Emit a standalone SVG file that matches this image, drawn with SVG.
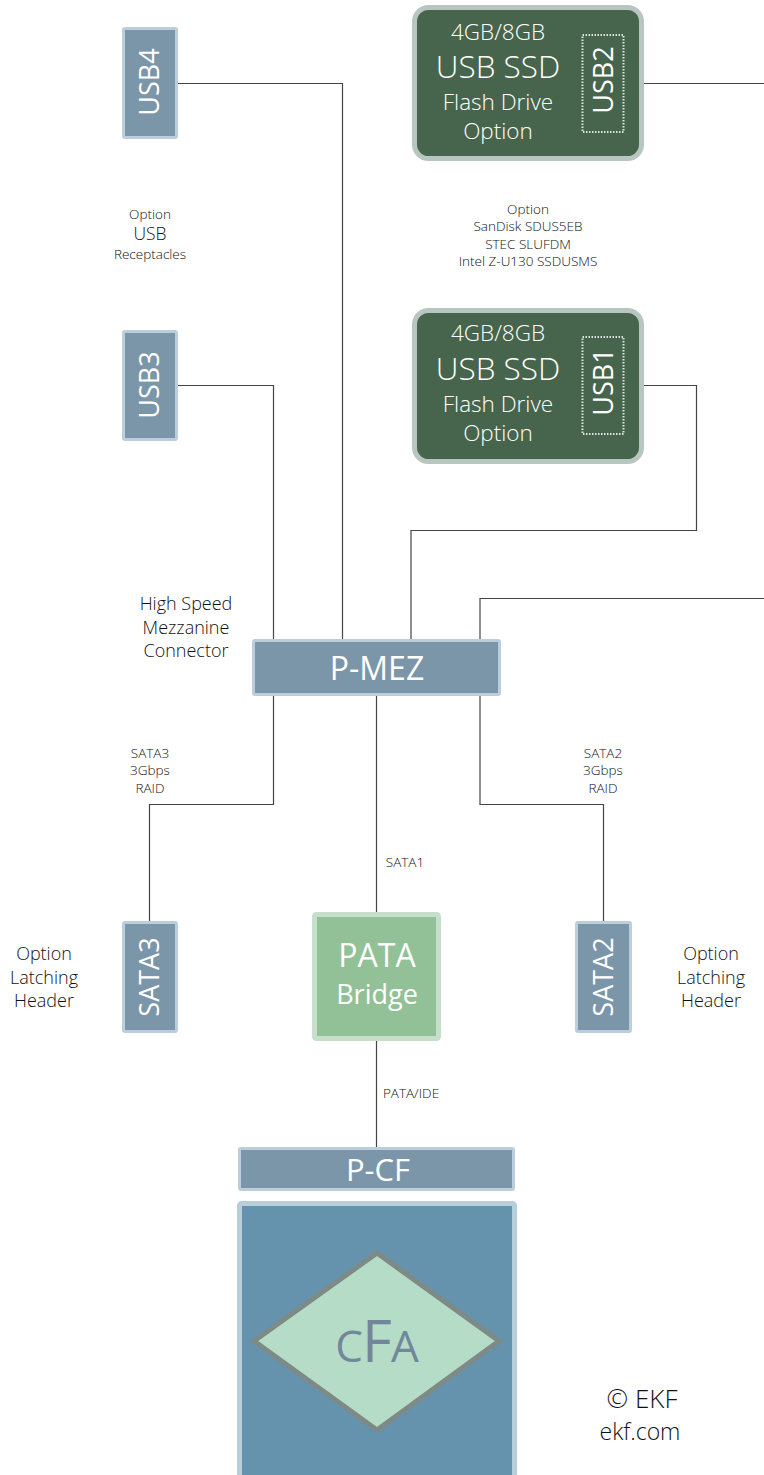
<svg xmlns="http://www.w3.org/2000/svg" width="764" height="1475" viewBox="0 0 764 1475">
<style>
text{font-family:"Open Sans","Noto Sans","Liberation Sans",sans-serif;font-weight:300;text-anchor:middle}
.w{fill:#fff}.d{fill:#111}
.s{font-size:13.500px}.m{font-size:18px}
.r{font-size:27px;font-weight:400}.l{font-size:22.500px}
.b{font-size:31.500px}
.c{fill:#7c96a9;stroke:#bccedb;stroke-width:3}
.ssd{fill:#47654d;stroke:#b8c6c0;stroke-width:5}
.con{fill:none;stroke:#444;stroke-width:1.200}
.dot{fill:none;stroke:#dbe6e1;stroke-width:2;stroke-dasharray:1.500 1.500}
</style>
<rect width="764" height="1475" fill="#fff"/>
<g id="connectors">
<path class="con" d="M178 83.500H342.500V640"/>
<path class="con" d="M644 83.500H764"/>
<path class="con" d="M178 385.500H273.500V640"/>
<path class="con" d="M644 385.500H696.500V530.500H411V640"/>
<path class="con" d="M480 640V598.500H764"/>
<path class="con" d="M273.500 696V804.500H149.500V921"/>
<path class="con" d="M376.500 696V913"/>
<path class="con" d="M480 696V804.500H603.500V921"/>
<path class="con" d="M376.500 1040V1148"/>
</g>
<g id="usb4"><rect class="c" x="123.500" y="28.500" width="53" height="109" rx="1.500"/><text class="w r" transform="translate(159 82) rotate(-90)">USB4</text></g>
<g id="usb3"><rect class="c" x="123.500" y="331.500" width="53" height="108" rx="1.500"/><text class="w r" transform="translate(159 385) rotate(-90)">USB3</text></g>
<g id="ssd2"><rect class="ssd" x="414.500" y="7.500" width="227" height="151" rx="14"/>
<text class="w l" x="498" y="40">4GB/8GB</text><text class="w b" x="498" y="78">USB SSD</text><text class="w l" x="498" y="110">Flash Drive</text><text class="w l" x="498" y="139">Option</text>
<rect class="dot" x="582.500" y="35" width="41" height="97"/><text class="w r" transform="translate(613 80) rotate(-90)">USB2</text></g>
<g id="ssd1"><rect class="ssd" x="414.500" y="310.500" width="227" height="151" rx="14"/>
<text class="w l" x="498" y="341">4GB/8GB</text><text class="w b" x="498" y="380">USB SSD</text><text class="w l" x="498" y="412">Flash Drive</text><text class="w l" x="498" y="441">Option</text>
<rect class="dot" x="582.500" y="337" width="41" height="97"/><text class="w r" transform="translate(613 382) rotate(-90)">USB1</text></g>
<g id="p-mez"><rect class="c" x="253.500" y="640.500" width="246" height="54" rx="1.500"/><text class="w" x="377" y="680" style="font-size:32px;font-weight:400">P-MEZ</text></g>
<g id="sata3"><rect class="c" x="123.500" y="922.500" width="53" height="109" rx="1.500"/><text class="w r" transform="translate(159 977) rotate(-90)">SATA3</text></g>
<g id="sata2"><rect class="c" x="576.500" y="922.500" width="54" height="109" rx="1.500"/><text class="w r" transform="translate(613 977) rotate(-90)">SATA2</text></g>
<g id="pata"><rect x="314.500" y="914.500" width="124" height="124" rx="2" fill="#93c197" stroke="#c5dfca" stroke-width="5"/><text class="w" x="377" y="967" style="font-size:32px;font-weight:400">PATA</text><text class="w" x="377" y="1004" style="font-size:27px;font-weight:400">Bridge</text></g>
<g id="p-cf"><rect class="c" x="239.500" y="1148.500" width="274" height="41" rx="1.500"/><text class="w" x="378" y="1181" style="font-size:31px;font-weight:400">P-CF</text></g>
<g id="cf"><rect x="239.500" y="1203.500" width="275" height="280" rx="2" fill="#6593ae" stroke="#b7cfdd" stroke-width="5"/>
<polygon points="377,1253 499,1341 377,1430 254,1341" fill="#b5dcc6" stroke="#7d8a85" stroke-width="5"/>
<text x="377" y="1362" fill="#72879a" style="font-weight:500;font-size:46px"><tspan style="font-size:44px">C</tspan><tspan style="font-size:58px" dx="-1">F</tspan><tspan style="font-size:44px" dx="-1">A</tspan></text></g>
<g id="labels">
<text class="d s" x="150" y="219">Option</text><text class="d" x="150" y="240" style="font-size:17.500px">USB</text><text class="d s" x="150" y="259">Receptacles</text>
<text class="d s" x="528" y="214">Option</text><text class="d s" x="528" y="231">SanDisk SDUS5EB</text><text class="d s" x="528" y="249">STEC SLUFDM</text><text class="d s" x="528" y="266">Intel Z-U130 SSDUSMS</text>
<text class="d m" x="186" y="610">High Speed</text><text class="d m" x="186" y="634">Mezzanine</text><text class="d m" x="186" y="657">Connector</text>
<text class="d s" x="150" y="758">SATA3</text><text class="d s" x="150" y="775">3Gbps</text><text class="d s" x="150" y="793">RAID</text>
<text class="d s" x="603" y="758">SATA2</text><text class="d s" x="603" y="775">3Gbps</text><text class="d s" x="603" y="793">RAID</text>
<text class="d s" x="405" y="867">SATA1</text><text class="d s" x="411" y="1098">PATA/IDE</text>
<text class="d m" x="44" y="960">Option</text><text class="d m" x="44" y="984">Latching</text><text class="d m" x="44" y="1007">Header</text>
<text class="d m" x="711" y="960">Option</text><text class="d m" x="711" y="984">Latching</text><text class="d m" x="711" y="1007">Header</text>
<text class="d" x="642" y="1408" style="font-size:26px">© EKF</text><text class="d" x="640" y="1440" style="font-size:23px">ekf.com</text>
</g>
</svg>
